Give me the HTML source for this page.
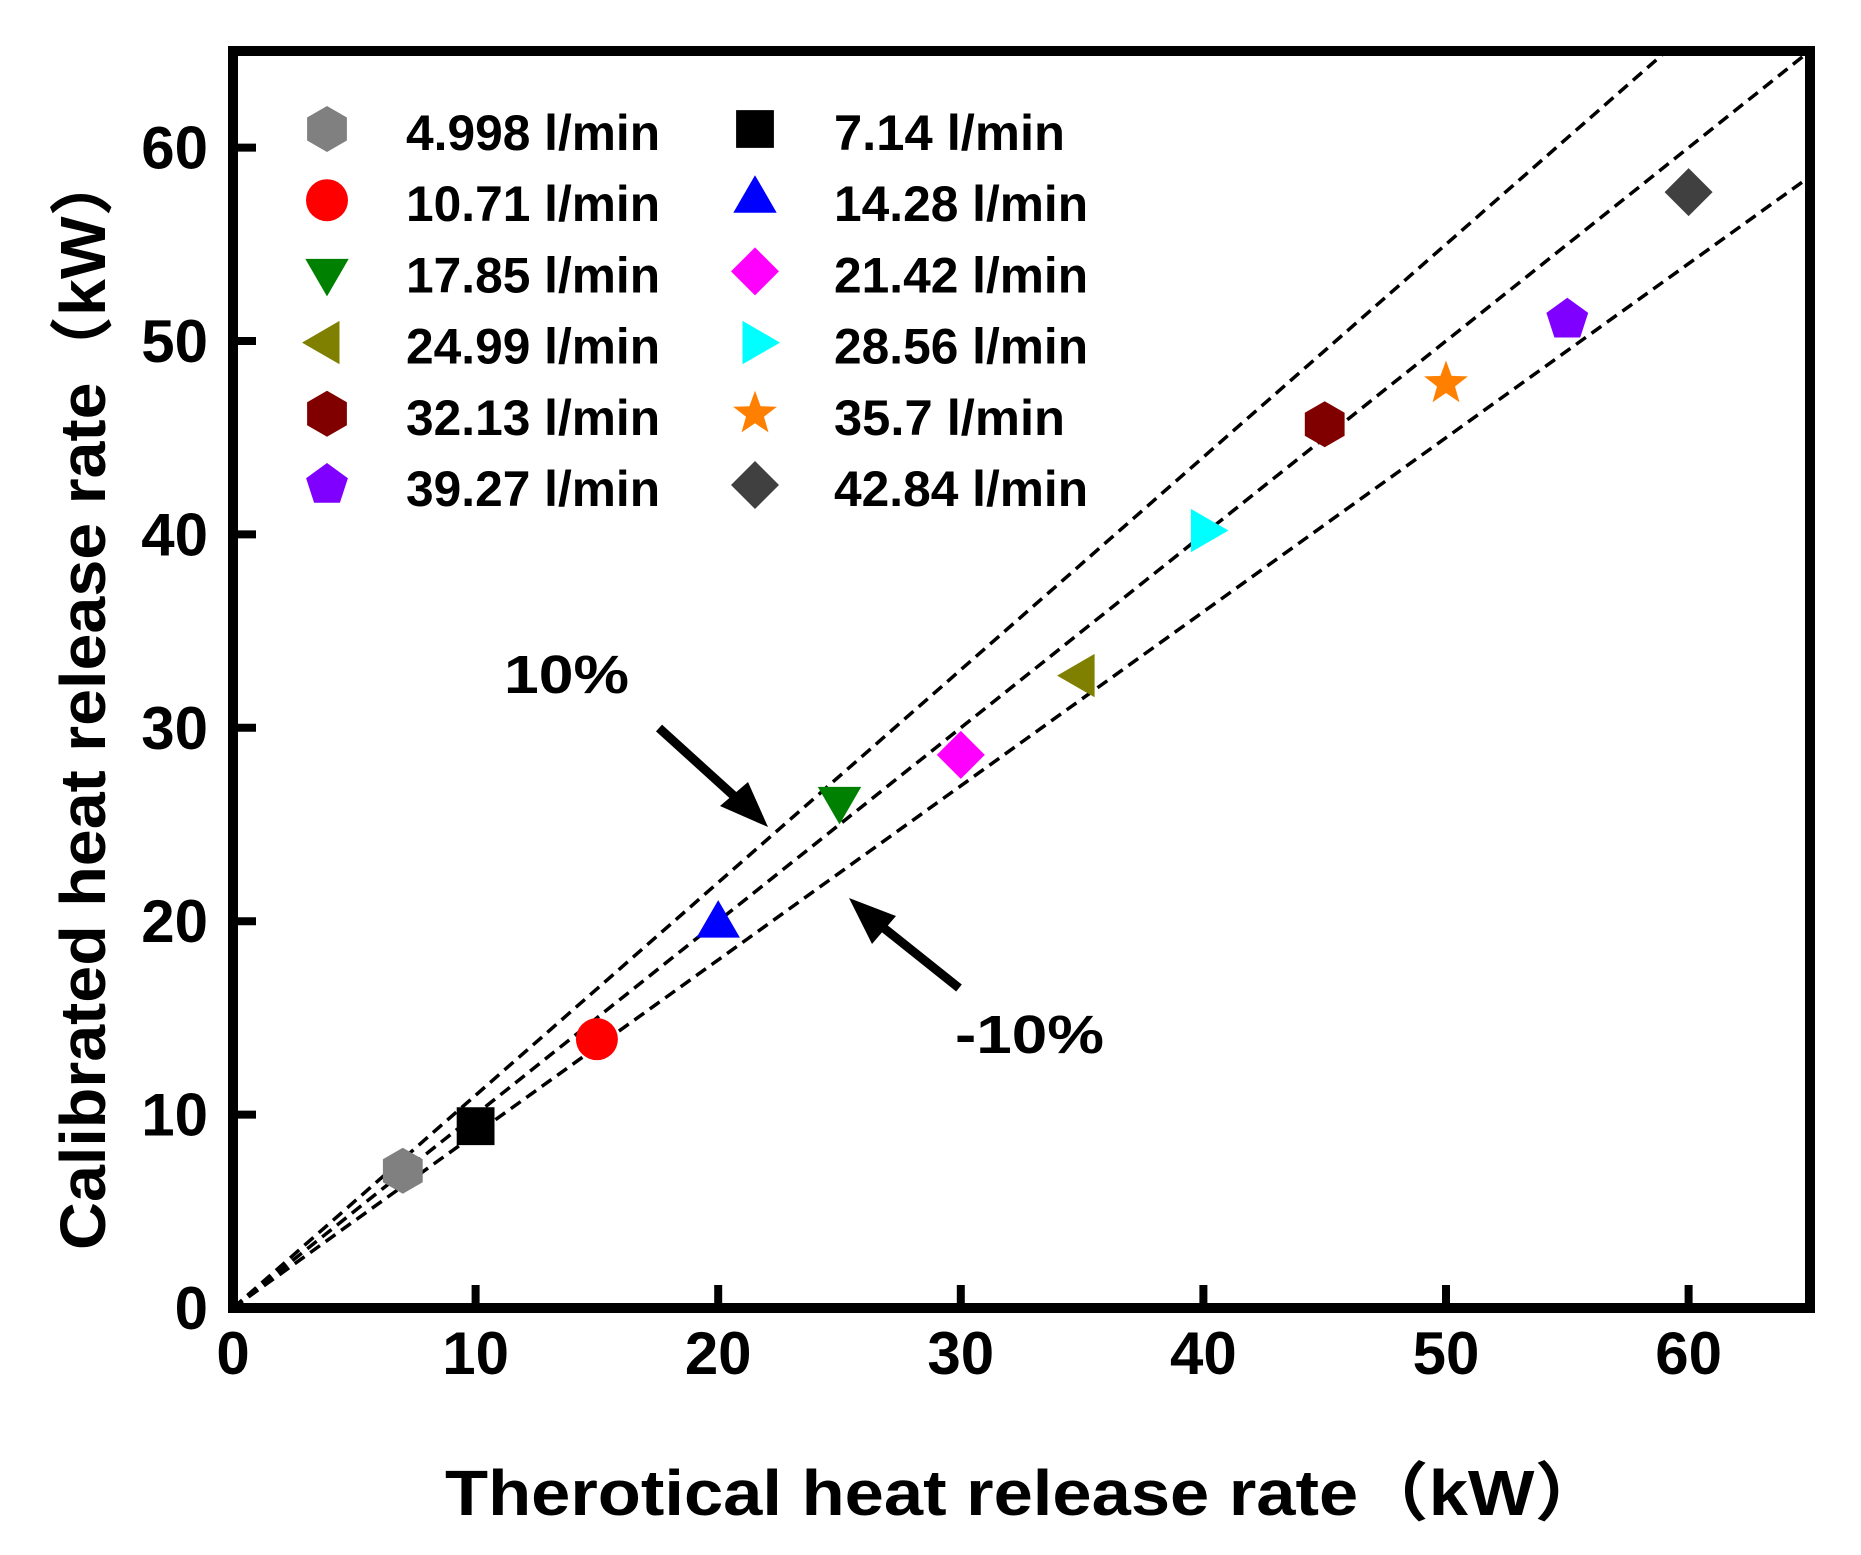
<!DOCTYPE html>
<html><head><meta charset="utf-8"><style>
html,body{margin:0;padding:0;background:#fff}
svg text{font-family:"Liberation Sans","Noto Sans CJK SC",sans-serif;font-weight:bold;fill:#000}
</style></head><body>
<svg id="chart" width="1861" height="1550" viewBox="0 0 1861 1550" xmlns="http://www.w3.org/2000/svg">
<g id="lines"></g>
<g id="marks"></g>
<rect x="233" y="51" width="1577" height="1257" fill="none" stroke="#000" stroke-width="10"/>
<g id="ticks"></g>
<g id="legend"></g>
<text x="445" y="1515" font-size="64" textLength="1160" lengthAdjust="spacingAndGlyphs">Therotical heat release rate（kW）</text>
<text transform="translate(105,1250) rotate(-90)" font-size="64" textLength="1100" lengthAdjust="spacingAndGlyphs">Calibrated heat release rate（kW）</text>
<text x="504" y="693" font-size="54" textLength="125" lengthAdjust="spacingAndGlyphs">10%</text>
<text x="955" y="1053" font-size="54" textLength="149" lengthAdjust="spacingAndGlyphs">-10%</text>
<g>
<line x1="659" y1="728" x2="745" y2="806" stroke="#000" stroke-width="9"/>
<polygon points="768,827 720,806 748,782" fill="#000"/>
</g>
<g>
<line x1="959" y1="988" x2="870" y2="917" stroke="#000" stroke-width="9"/>
<polygon points="849,898 896,916 872,944" fill="#000"/>
</g>
</svg>
<script>
const xTicks=[0,10,20,30,40,50,60];
const yTicks=[0,10,20,30,40,50,60];
const theoretical=[7,10,15,20,25,30,35,40,45,50,55,60];
const calibrated=[7.1,9.4,13.9,19.8,26.3,28.6,32.7,40.2,45.7,47.8,51.1,57.7];
const flowLabels=["4.998 l/min","7.14 l/min","10.71 l/min","14.28 l/min","17.85 l/min","21.42 l/min","24.99 l/min","28.56 l/min","32.13 l/min","35.7 l/min","39.27 l/min","42.84 l/min"];
const ratios=[1.1,1.0,0.9];
const shapes=["hexagon","square","circle","triangle-up","triangle-down","diamond","triangle-left","triangle-right","hexagon","star","pentagon","diamond"];
const colors=["#808080","#000000","#ff0000","#0000ff","#008000","#ff00ff","#808000","#00ffff","#800000","#ff8000","#8000ff","#404040"];
const NS="http://www.w3.org/2000/svg";
const X=v=>233+24.26*v, Y=v=>1308-19.34*v;
function mk(tag,attrs,parent){const e=document.createElementNS(NS,tag);for(const k in attrs)e.setAttribute(k,attrs[k]);parent.appendChild(e);return e;}
function poly(n,r,rot){const p=[];for(let i=0;i<n;i++){const a=rot+i*2*Math.PI/n;p.push([r*Math.cos(a),r*Math.sin(a)]);}return p;}
function shape(kind,cx,cy,color,parent){
  let pts;const r=21;
  if(kind==="circle"){return mk("circle",{cx:cx,cy:cy,r:r,fill:color},parent);}
  if(kind==="square")pts=[[-r,-r],[r,-r],[r,r],[-r,r]].map(p=>[p[0]*0.9,p[1]*0.9]);
  else if(kind==="hexagon")pts=poly(6,r+2,-Math.PI/2);
  else if(kind==="diamond")pts=poly(4,r+3,0);
  else if(kind==="pentagon")pts=poly(5,r+1,-Math.PI/2);
  else if(kind==="triangle-up")pts=poly(3,r+4,-Math.PI/2);
  else if(kind==="triangle-down")pts=poly(3,r+4,Math.PI/2);
  else if(kind==="triangle-left")pts=poly(3,r+4,Math.PI);
  else if(kind==="triangle-right")pts=poly(3,r+4,0);
  else if(kind==="star"){pts=[];for(let i=0;i<10;i++){const a=-Math.PI/2+i*Math.PI/5,rr=i%2?r*0.45:r+2;pts.push([rr*Math.cos(a),rr*Math.sin(a)]);}}
  return mk("polygon",{points:pts.map(p=>(cx+p[0]).toFixed(1)+","+(cy+p[1]).toFixed(1)).join(" "),fill:color},parent);
}
const lines=document.getElementById('lines');
ratios.forEach(k=>{
  const xe=Math.min(65,65/k);
  const l=mk("line",{x1:X(0),y1:Y(0),x2:X(xe),y2:Y(xe*k),stroke:"#000","stroke-width":3.5,"stroke-dasharray":"12,7"},lines);
  
  
});
const marks=document.getElementById('marks');
theoretical.forEach((t,i)=>{
  const e=shape(shapes[i],X(t),Y(calibrated[i]),colors[i],marks);
  
  
});
const ticks=document.getElementById('ticks');
xTicks.forEach(v=>{
  if(v>0){const t=mk("line",{x1:X(v),y1:1308,x2:X(v),y2:1285,stroke:"#000","stroke-width":8},ticks);
  
  }
  const tx=mk("text",{x:X(v),y:1374,"font-size":60,"text-anchor":"middle"},ticks);tx.textContent=v;
  
  
});
yTicks.forEach(v=>{
  if(v>0){const t=mk("line",{x1:233,y1:Y(v),x2:256,y2:Y(v),stroke:"#000","stroke-width":8},ticks);
  
  }
  const tx=mk("text",{x:208,y:Y(v)+21,"font-size":60,"text-anchor":"end"},ticks);tx.textContent=v;
  
  
});
const legend=document.getElementById('legend');
flowLabels.forEach((lab,i)=>{
  const col=i%2,row=Math.floor(i/2);
  const mx=col?755:327,tx=col?834:406,cy=129+row*71.2;
  const m=shape(shapes[i],mx,cy,colors[i],legend);
  
  
  const t=mk("text",{x:tx,y:cy+21,"font-size":50,textLength:lab.length*23.1,lengthAdjust:"spacingAndGlyphs"},legend);
  t.textContent=lab;
  
  
});
</script>
</body></html>
